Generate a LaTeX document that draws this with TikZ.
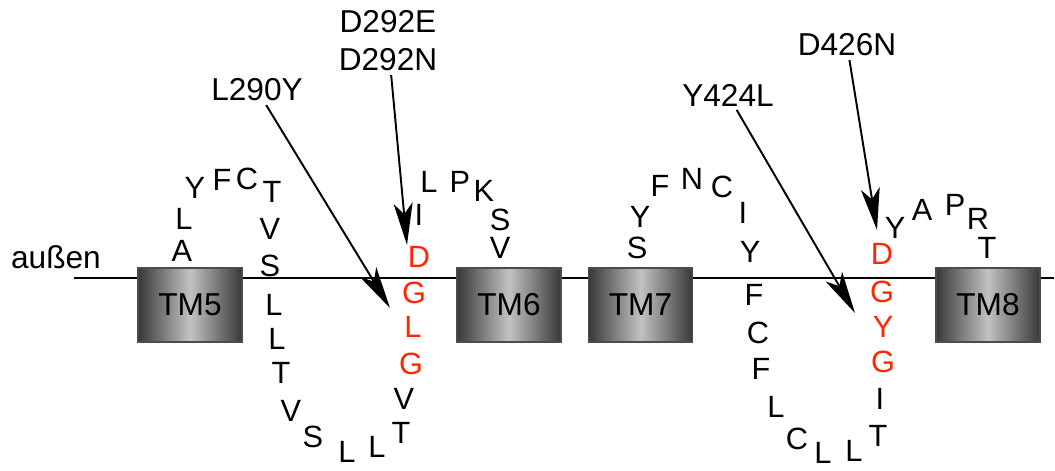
\documentclass[tikz,border=0pt]{standalone}
\usepackage{fontspec}
\setmainfont{Liberation Sans}
\usetikzlibrary{arrows.meta}

\definecolor{sitered}{RGB}{255,38,0}

\begin{document}
\begin{tikzpicture}[
    residue/.style={font=\fontsize{17.5}{17.5}\selectfont, inner sep=0pt},
    site residue/.style={residue, text=sitered},
    tm/.style={rectangle, draw=black!70, line width=0.8pt, minimum width=2.08cm, minimum height=1.48cm,
        left color=black!78, right color=black!78, middle color=black!24, font=\fontsize{18}{18}\selectfont},
    mutation/.style={font=\fontsize{18}{21.6}\selectfont, align=center, inner sep=2pt},
    pointer/.style={-{Stealth[length=0.84cm, width=0.38cm, inset=0.22cm]}, line width=1.1pt}
]
\useasboundingbox (0,-3.84) rectangle (21.10,5.56);

% Membrane
\node[font=\fontsize{18}{18}\selectfont, anchor=base] (out) at (1.12,0.20) {außen};
\coordinate (M1) at (1.48,0);
\coordinate (M2) at (21.08,0);
\draw[line width=1.1pt] (M1) -- (M2);

% Transmembrane segments
\node[tm] (TM5) at (3.80,-0.54) {TM5};
\node[tm] (TM6) at (10.18,-0.54) {TM6};
\node[tm] (TM7) at (12.81,-0.54) {TM7};
\node[tm] (TM8) at (19.76,-0.54) {TM8};

% Loop between TM5 and TM6
\node[residue] (R1N1) at (3.64,0.54) {A};
\node[residue] (R1N2) at (3.68,1.18) {L};
\node[residue] (R1N3) at (3.90,1.80) {Y};
\node[residue] (R1N4) at (4.44,1.96) {F};
\node[residue] (R1N5) at (4.94,1.98) {C};
\node[residue] (R1N6) at (5.44,1.72) {T};
\node[residue] (R1N7) at (5.40,0.98) {V};
\node[residue] (R1N8) at (5.40,0.24) {S};
\node[residue] (R1N9) at (5.48,-0.54) {L};
\node[residue] (R1N10) at (5.54,-1.22) {L};
\node[residue] (R1N11) at (5.62,-1.90) {T};
\node[residue] (R1N12) at (5.82,-2.66) {V};
\node[residue] (R1N13) at (6.26,-3.18) {S};
\node[residue] (R1N14) at (6.94,-3.48) {L};
\node[residue] (R1N15) at (7.54,-3.38) {L};
\node[residue] (R1N16) at (8.02,-3.10) {T};
\node[residue] (R1N17) at (8.08,-2.42) {V};
\node[site residue] (R1N18) at (8.22,-1.72) {G};
\node[site residue] (R1N19) at (8.26,-0.98) {L};
\node[site residue] (R1N20) at (8.28,-0.30) {G};
\node[site residue] (R1N21) at (8.38,0.42) {D};
\node[residue] (R1N22) at (8.38,1.26) {I};
\node[residue] (R1N23) at (8.58,1.92) {L};
\node[residue] (R1N24) at (9.20,1.92) {P};
\node[residue] (R1N25) at (9.68,1.74) {K};
\node[residue] (R1N26) at (10.00,1.16) {S};
\node[residue] (R1N27) at (10.00,0.60) {V};

% Loop between TM7 and TM8
\node[residue] (R2N1) at (12.74,0.60) {S};
\node[residue] (R2N2) at (12.80,1.22) {Y};
\node[residue] (R2N3) at (13.20,1.84) {F};
\node[residue] (R2N4) at (13.84,1.98) {N};
\node[residue] (R2N5) at (14.44,1.82) {C};
\node[residue] (R2N6) at (14.86,1.30) {I};
\node[residue] (R2N7) at (15.00,0.52) {Y};
\node[residue] (R2N8) at (15.08,-0.34) {F};
\node[residue] (R2N9) at (15.16,-1.10) {C};
\node[residue] (R2N10) at (15.22,-1.82) {F};
\node[residue] (R2N11) at (15.52,-2.58) {L};
\node[residue] (R2N12) at (15.94,-3.22) {C};
\node[residue] (R2N13) at (16.46,-3.50) {L};
\node[residue] (R2N14) at (17.08,-3.46) {L};
\node[residue] (R2N15) at (17.56,-3.16) {T};
\node[residue] (R2N16) at (17.60,-2.42) {I};
\node[site residue] (R2N17) at (17.66,-1.68) {G};
\node[site residue] (R2N18) at (17.66,-0.98) {Y};
\node[site residue] (R2N19) at (17.64,-0.28) {G};
\node[site residue] (R2N20) at (17.64,0.48) {D};
\node[residue] (R2N21) at (17.90,1.00) {Y};
\node[residue] (R2N22) at (18.44,1.36) {A};
\node[residue] (R2N23) at (19.10,1.46) {P};
\node[residue] (R2N24) at (19.56,1.18) {R};
\node[residue] (R2N25) at (19.74,0.60) {T};

% Mutations
\node[mutation] (L290Y) at (5.14,3.76) {L290Y};
\node[mutation] (D292) at (7.76,4.74) {D292E\\D292N};
\node[mutation] (Y424L) at (14.56,3.66) {Y424L};
\node[mutation] (D426N) at (16.94,4.66) {D426N};

\coordinate (T290) at (7.80,-0.60);
\coordinate (T292) at (8.14,0.66);
\coordinate (T424) at (17.10,-0.70);
\coordinate (T426) at (17.54,0.96);

\draw[pointer] (L290Y) -- (T290);
\draw[pointer] (D292) -- (T292);
\draw[pointer] (Y424L) -- (T424);
\draw[pointer] (D426N) -- (T426);

\end{tikzpicture}
\end{document}
